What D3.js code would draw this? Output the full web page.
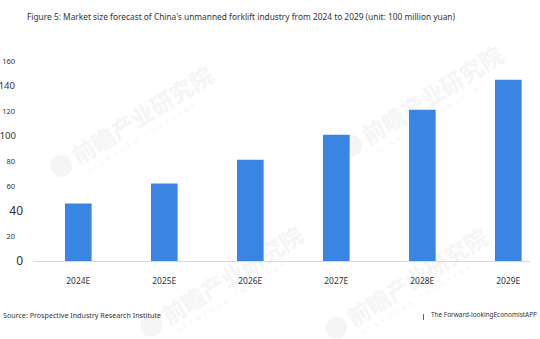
<!DOCTYPE html>
<html>
<head>
<meta charset="utf-8">
<script src="https://cdn.jsdelivr.net/npm/d3@7"></script>
<style>
	html, body { margin: 0; padding: 0; background: #fff; }
	svg { display: block; font-family: "Noto Sans", "Noto Sans CJK SC", sans-serif; }
</style>
</head>
<body>
<div id="chart"></div>
<script>
// chart data
let years = ['2024E', '2025E', '2026E', '2027E', '2028E', '2029E'];
let marketSize = [46, 62, 81, 101, 121, 145];
let yTicks = [0, 20, 40, 60, 80, 100, 120, 140, 160];

let width = 540,
		height = 339,
		blue = '#3a85e2',
		textGrey = '#333',
		axisGrey = '#d9d9d9';

// tick labels in the source image come in three odd sizes
let tickStyle = {
	0: {size: 12, end: 23}, 40: {size: 12, end: 23},
	100: {size: 9.5, end: 16}, 140: {size: 9.5, end: 15}
};

let svg = d3.select('#chart').append('svg')
		.attr('width', width)
		.attr('height', height);

let x = d3.scaleBand()
		.domain(years)
		.range([35.3, 551.3])
		.paddingInner(0.69)
		.paddingOuter(0.345);

let y = d3.scaleLinear()
		.domain([0, 160])
		.range([261, 61]);

// faint watermark
let marks = svg.append('g').attr('fill', '#f5f5f5');
[[110, 140], [400, 120], [200, 300], [385, 302]].forEach(([cx, cy]) => {
	let g = marks.append('g').attr('transform', `translate(${cx},${cy}) rotate(-32)`);
	g.append('circle').attr('cx', -55).attr('cy', -4).attr('r', 11);
	g.append('text')
			.attr('x', -40).attr('y', 5)
			.style('font-size', '23px')
			.style('font-weight', 700)
			.style('font-family', '"Noto Sans CJK SC"')
			.text('前瞻产业研究院');
	g.append('text')
			.attr('x', -36).attr('y', 17)
			.style('font-size', '6px')
			.style('letter-spacing', '4px')
			.text('QIANZHAN INDUSTRY');
});

// title
svg.append('text')
		.attr('x', 27).attr('y', 20)
		.attr('fill', textGrey)
		.attr('textLength', 428)
		.attr('lengthAdjust', 'spacingAndGlyphs')
		.style('font-size', '9.5px')
		.text("Figure 5: Market size forecast of China's unmanned forklift industry from 2024 to 2029 (unit: 100 million yuan)");

// y tick labels
svg.append('g').selectAll('text')
		.data(yTicks)
		.enter()
		.append('text')
		.attr('x', d => tickStyle[d] ? tickStyle[d].end : 15)
		.attr('y', d => y(d))
		.attr('dy', '0.36em')
		.attr('text-anchor', 'end')
		.attr('fill', textGrey)
		.style('font-size', d => (tickStyle[d] ? tickStyle[d].size : 7.5) + 'px')
		.text(d => d);

// bars
svg.append('g').selectAll('rect')
		.data(marketSize)
		.enter()
		.append('rect')
		.attr('x', (d, i) => x(years[i]))
		.attr('width', x.bandwidth())
		.attr('y', d => y(d))
		.attr('height', d => y(0) - y(d))
		.attr('fill', blue);

// baseline
svg.append('line')
		.attr('x1', 33).attr('x2', 530)
		.attr('y1', y(0) + 0.5).attr('y2', y(0) + 0.5)
		.attr('stroke', axisGrey);

// category labels
svg.append('g').selectAll('text')
		.data(years)
		.enter()
		.append('text')
		.attr('x', d => x(d) + x.bandwidth() / 2)
		.attr('y', 284)
		.attr('text-anchor', 'middle')
		.attr('fill', textGrey)
		.attr('textLength', 24)
		.attr('lengthAdjust', 'spacingAndGlyphs')
		.style('font-size', '8px')
		.text(d => d);

// footer
svg.append('text')
		.attr('x', 3).attr('y', 318)
		.attr('fill', textGrey)
		.attr('textLength', 158)
		.attr('lengthAdjust', 'spacingAndGlyphs')
		.style('font-size', '7px')
		.text('Source: Prospective Industry Research Institute');

svg.append('line')
		.attr('x1', 423.5).attr('x2', 423.5)
		.attr('y1', 314).attr('y2', 320)
		.attr('stroke', '#666');

svg.append('text')
		.attr('x', 431).attr('y', 317)
		.attr('fill', textGrey)
		.attr('textLength', 106)
		.attr('lengthAdjust', 'spacingAndGlyphs')
		.style('font-size', '6.5px')
		.text('The Forward-lookingEconomistAPP');
</script>
</body>
</html>
